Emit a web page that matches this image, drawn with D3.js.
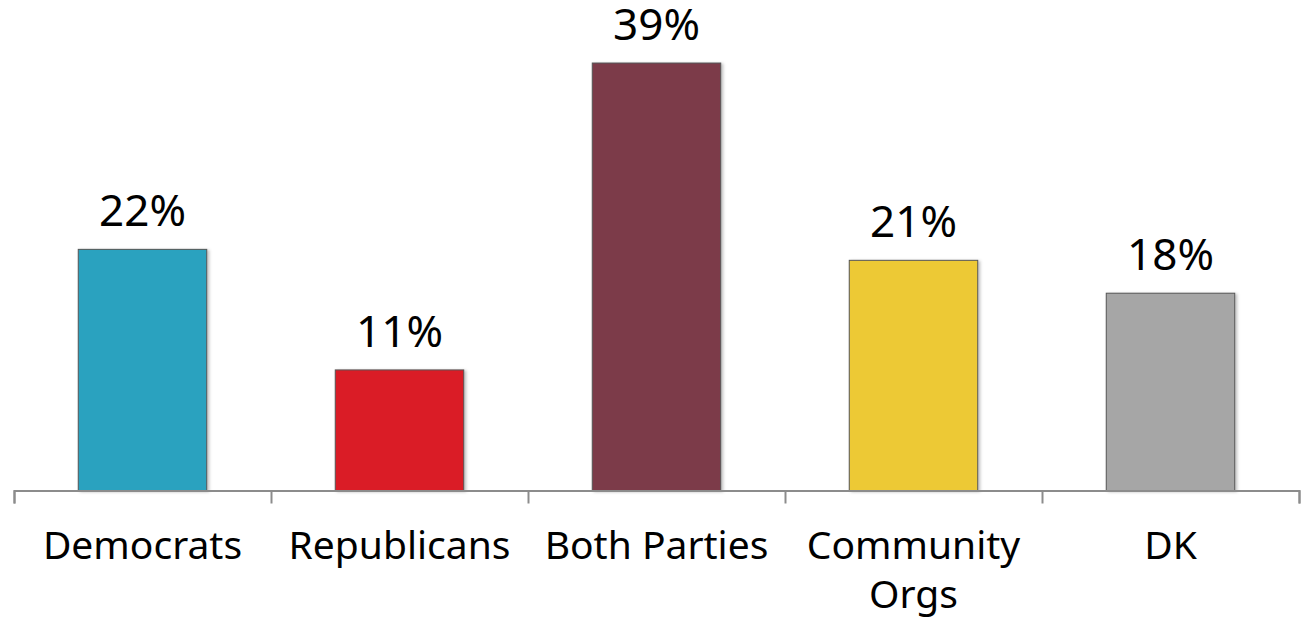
<!DOCTYPE html>
<html>
<head>
<meta charset="utf-8">
<script src="https://cdn.jsdelivr.net/npm/d3@7"></script>
<style>
  html, body { margin: 0; padding: 0; background: #fff; }
  svg { display: block; }
</style>
</head>
<body>
<svg id="chart" width="1301" height="621"></svg>
<script>
const categories = ["Democrats", "Republicans", "Both Parties", "Community Orgs", "DK"];
const categoryLines = [["Democrats"], ["Republicans"], ["Both Parties"], ["Community", "Orgs"], ["DK"]];
const values = [22, 11, 39, 21, 18];
const valueLabels = ["22%", "11%", "39%", "21%", "18%"];
const colors = ["#2CA2BF", "#DA1F28", "#7B3B4A", "#EDC935", "#A6A6A6"];

const svg = d3.select("#chart");
const FONT = "'Noto Sans', sans-serif";

const x = d3.scaleBand().domain(categories).range([14, 1299]).paddingInner(0.5).paddingOuter(0.25);
const y = d3.scaleLinear().domain([0, 44.75]).range([490.5, 0]);

const defs = svg.append("defs");
const f = defs.append("filter").attr("id", "shadow").attr("x", "-10%").attr("y", "-10%").attr("width", "130%").attr("height", "130%");
f.append("feDropShadow").attr("dx", 2).attr("dy", 1).attr("stdDeviation", 1.5).attr("flood-color", "#000").attr("flood-opacity", 0.25);

// bars
svg.append("g").selectAll("rect").data(values).join("rect")
  .attr("x", (d, i) => x(categories[i]))
  .attr("y", d => y(d))
  .attr("width", x.bandwidth())
  .attr("height", d => y(0) - y(d))
  .attr("fill", (d, i) => colors[i])
  .attr("stroke", "#555")
  .attr("stroke-width", 1)
  .attr("filter", "url(#shadow)");

// axis line with boundary ticks
const step = x.step();
const start = x.range()[0];
const boundaryScale = d3.scaleLinear().domain([0, categories.length]).range([start, start + categories.length * step]);
const axisG = svg.append("g").attr("transform", `translate(0,${y(0)})`)
  .call(d3.axisBottom(boundaryScale).tickValues(d3.range(categories.length + 1)).tickSize(13).tickSizeOuter(13).tickFormat(""));
axisG.selectAll("path, line").attr("stroke", "#8c8c8c").attr("stroke-width", 2);

// category labels
const labelG = svg.append("g");
categories.forEach((c, i) => {
  const t = labelG.append("text")
    .attr("x", x(c) + x.bandwidth() / 2)
    .attr("y", 559)
    .attr("text-anchor", "middle")
    .attr("font-family", FONT)
    .attr("font-size", 39)
    .attr("fill", "#000");
  categoryLines[i].forEach((line, j) => {
    t.append("tspan").attr("x", x(c) + x.bandwidth() / 2).attr("dy", j === 0 ? 0 : 49).text(line);
  });
});

// value labels
svg.append("g").selectAll("text").data(values).join("text")
  .attr("x", (d, i) => x(categories[i]) + x.bandwidth() / 2)
  .attr("y", d => y(d) - 23)
  .attr("text-anchor", "middle")
  .attr("font-family", FONT)
  .attr("font-size", 44)
  .attr("fill", "#000")
  .text((d, i) => valueLabels[i]);
</script>
</body>
</html>
